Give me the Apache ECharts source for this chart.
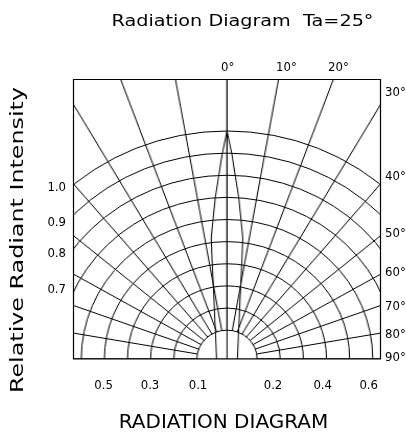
<!DOCTYPE html>
<html>
<head>
<meta charset="utf-8">
<script src="https://cdn.jsdelivr.net/npm/echarts/dist/echarts.min.js"></script>
<style>
  html, body { margin: 0; padding: 0; background: #fff; }
  #wrap { position: relative; width: 406px; height: 434px; overflow: hidden; background: #fff; }
  #clip { position: absolute; left: 73px; top: 79px; width: 308px; height: 280px; overflow: hidden; }
  #grid { position: absolute; left: 0; top: 0; width: 295px; height: 280px; transform: scaleX(1.045); transform-origin: 0 0; }
  #labels { position: absolute; left: 0; top: 0; width: 406px; height: 434px; pointer-events: none; }
</style>
</head>
<body>
<div id="wrap">
  <div id="clip"><div id="grid"></div></div>
  <div id="labels"></div>
</div>
<script>
// ---- data ----
// beam pattern: angle (deg, 0 = axis) and relative radiant intensity
const lobeAngles = [-90, -84.3, -55.5, -36.9, -24.4, -16.6, -11.9, -9.6, -8.2, -7.1, -5.5, -4.0, -2.5, -1.3, 0,
                    1.3, 2.5, 4.0, 5.5, 7.1, 8.2, 9.6, 11.9, 16.6, 24.4, 36.9, 55.5, 84.3, 90];
const lobeIntensity = [0.015, 0.015, 0.026, 0.049, 0.089, 0.154, 0.242, 0.332, 0.422, 0.521, 0.602, 0.699, 0.796, 0.896, 1.0,
                       0.896, 0.796, 0.699, 0.602, 0.521, 0.422, 0.332, 0.242, 0.154, 0.089, 0.049, 0.026, 0.015, 0.015];

const titleText = 'Radiation Diagram  Ta=25°';
const yAxisName = 'Relative Radiant Intensity';
const xAxisName = 'RADIATION DIAGRAM';
const topAngleLabels = ['0°', '10°', '20°'];
const rightAngleLabels = ['30°', '40°', '50°', '60°', '70°', '80°', '90°'];
const leftScaleLabels = ['1.0', '0.9', '0.8', '0.7'];
const bottomScaleLabels = ['0.5', '0.3', '0.1', '0.2', '0.4', '0.6'];

// ---- grid + beam (polar) ----
const CX = 154 / 1.045, CY = 280;
function angleAxisBase(i, showSplit, interval) {
  return {
    polarIndex: i, type: 'value', min: -180, max: 180, startAngle: 270, clockwise: true,
    interval: interval, axisLine: { show: false }, axisTick: { show: false }, axisLabel: { show: false },
    splitLine: { show: showSplit, lineStyle: { color: '#000', width: 1 } }, splitArea: { show: false }
  };
}
function radiusAxisBase(i, showSplit) {
  const cols = ['rgba(0,0,0,0)'];
  for (let k = 0; k < 10; k++) cols.push('#000');
  return {
    polarIndex: i, type: 'value', min: 0, max: 1, interval: 0.1,
    axisLine: { show: false }, axisTick: { show: false }, axisLabel: { show: false },
    splitLine: { show: showSplit, lineStyle: { color: cols, width: 1 } }, splitArea: { show: false }
  };
}
const gridChart = echarts.init(document.getElementById('grid'));
gridChart.setOption({
  animation: false,
  polar: [
    { center: [CX, CY], radius: [6.7, 228] },   // intensity arcs + beam
    { center: [CX, CY], radius: [28.8, 340] },  // radial angle lines
    { center: [CX, CY], radius: [0, 340] }      // axis (0°) line
  ],
  angleAxis: [angleAxisBase(0, false, 10), angleAxisBase(1, true, 10), angleAxisBase(2, true, 90)],
  radiusAxis: [radiusAxisBase(0, true), radiusAxisBase(1, false), radiusAxisBase(2, false)],
  series: [{
    type: 'line', coordinateSystem: 'polar', polarIndex: 0, symbol: 'none', smooth: false,
    lineStyle: { color: '#000', width: 1 },
    data: lobeAngles.map((a, i) => [lobeIntensity[i], a])
  }]
});

// ---- frame and texts ----
const thinFam = "'DejaVu Sans ExtraLight', 'DejaVu Sans', sans-serif";
const numFont = "13px 'Liberation Sans Narrow', 'DejaVu Sans Condensed', 'Liberation Sans', sans-serif";
const g = [];
g.push({ type: 'rect', shape: { x: 73.5, y: 79.5, width: 307, height: 279.5 },
  style: { fill: 'none', stroke: '#000', lineWidth: 1.2 } });
g.push({ type: 'text', x: 242.5, y: 22, scaleX: 1.2, style: { text: titleText, font: "16px " + thinFam,
  fill: '#000', textAlign: 'center', textVerticalAlign: 'middle' } });
g.push({ type: 'text', x: 19, y: 240, rotation: Math.PI / 2, scaleX: 1.4, style: { text: yAxisName,
  font: "17px " + thinFam, fill: '#000', textAlign: 'center', textVerticalAlign: 'middle' } });
g.push({ type: 'text', x: 223.5, y: 423, style: { text: xAxisName, font: "20px " + thinFam,
  fill: '#000', textAlign: 'center', textVerticalAlign: 'middle' } });
const topX = [221, 276, 328];
topAngleLabels.forEach((t, i) => g.push({ type: 'text', x: topX[i], y: 68,
  style: { text: t, font: numFont, fill: '#000', textAlign: 'left', textVerticalAlign: 'middle' } }));
const rightY = [93, 177, 234, 273, 307, 335, 358];
rightAngleLabels.forEach((t, i) => g.push({ type: 'text', x: 385, y: rightY[i],
  style: { text: t, font: numFont, fill: '#000', textAlign: 'left', textVerticalAlign: 'middle' } }));
const leftY = [188, 223, 253.5, 290];
leftScaleLabels.forEach((t, i) => g.push({ type: 'text', x: 66, y: leftY[i],
  style: { text: t, font: numFont, fill: '#000', textAlign: 'right', textVerticalAlign: 'middle' } }));
const bottomX = [103.6, 150, 198, 273, 322.7, 368.7];
bottomScaleLabels.forEach((t, i) => g.push({ type: 'text', x: bottomX[i], y: 386,
  style: { text: t, font: numFont, fill: '#000', textAlign: 'center', textVerticalAlign: 'middle' } }));

const labelChart = echarts.init(document.getElementById('labels'));
labelChart.setOption({ animation: false, graphic: g });
</script>
</body>
</html>
